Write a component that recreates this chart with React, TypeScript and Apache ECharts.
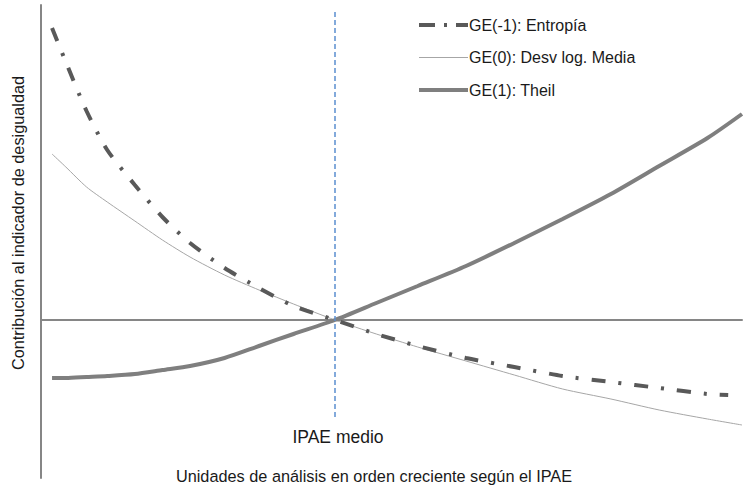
import React, { useEffect, useRef } from "react";
import * as echarts from "echarts";

const rankX = [0, 2, 5, 8, 12, 16, 20, 25, 30, 35, 41, 47, 53, 60, 67, 74, 81, 88, 95, 100];
const entropyX = [0, 2, 5, 8, 12, 16, 20, 25, 30, 35, 41, 47, 53, 60, 67, 74, 81, 88, 95, 98];
const entropyY = [292, 258, 209, 170, 135, 103, 77, 52, 32, 14, 0, -14, -26, -38, -47, -56, -62, -68, -74, -75];
const mldY = [166, 153, 133, 118, 99, 80, 63, 45, 30, 16, 0, -14, -27, -41, -55, -69, -79, -90, -99, -105];
const theilY = [-58, -58, -57, -56, -54, -50, -46, -38, -26, -14, 0, 17, 34, 54, 77, 101, 126, 154, 182, 206];
const seriesNames = ["GE(-1): Entropía", "GE(0): Desv log. Media", "GE(1): Theil"];
const meanRank = 41;
const meanLineTop = 308;
const meanLineBottom = -98;
const meanLabel = "IPAE medio";
const xTitle = "Unidades de análisis en orden creciente según el IPAE";
const yTitle = "Contribución al indicador de desigualdad";

const FONT = "Liberation Sans";

const entropyStyle = { color: "#595959", width: 4, type: [14, 13, 3, 13], cap: "butt" };
const mldStyle = { color: "#a6a6a6", width: 1 };
const theilStyle = { color: "#7f7f7f", width: 4 };

export default function App() {
  const ref = useRef<HTMLDivElement>(null);
  useEffect(() => {
    if (!ref.current) return;
    const chart = echarts.init(ref.current, undefined, { renderer: "svg" });
    const pairs = (xs: number[], ys: number[]) => xs.map((x, i) => [x, ys[i]]);
    chart.setOption({
      animation: false,
      backgroundColor: "#ffffff",
      textStyle: { fontFamily: FONT },
      grid: { left: 41, right: 2, top: 5, bottom: 14, containLabel: false },
      legend: {
        orient: "vertical",
        left: 412,
        top: 11,
        itemWidth: 49,
        itemHeight: 14,
        itemGap: 14.5,
        itemStyle: { opacity: 0 },
        textStyle: { fontFamily: FONT, fontSize: 16, color: "#1a1a1a", lineHeight: 18, padding: [0, 0, 0, -4] },
        data: [
          { name: seriesNames[0], lineStyle: { ...entropyStyle, type: [16, 9, 3, 9] } },
          { name: seriesNames[1], lineStyle: mldStyle },
          { name: seriesNames[2], lineStyle: theilStyle },
        ],
      },
      xAxis: {
        type: "value",
        min: -1.6,
        max: 100,
        axisLine: { show: true, onZero: true, lineStyle: { color: "#868686", width: 2 } },
        axisTick: { show: false },
        axisLabel: { show: false },
        splitLine: { show: false },
      },
      yAxis: {
        type: "value",
        min: -158,
        max: 315,
        axisLine: { show: true, onZero: false, lineStyle: { color: "#868686", width: 2 } },
        axisTick: { show: false },
        axisLabel: { show: false },
        splitLine: { show: false },
      },
      series: [
        {
          name: seriesNames[0],
          type: "line",
          symbol: "none",
          smooth: 0.25,
          data: pairs(entropyX, entropyY),
          lineStyle: entropyStyle,
          itemStyle: { color: "#595959" },
          markLine: {
            silent: true,
            symbol: "none",
            label: { show: false },
            lineStyle: { color: "#5b8fcf", width: 1.5, type: [5, 3] },
            data: [[{ coord: [meanRank, meanLineTop] }, { coord: [meanRank, meanLineBottom] }]],
          },
          z: 3,
        },
        {
          name: seriesNames[1],
          type: "line",
          symbol: "none",
          smooth: 0.25,
          data: pairs(rankX, mldY),
          lineStyle: mldStyle,
          itemStyle: { color: "#a6a6a6" },
          z: 2,
        },
        {
          name: seriesNames[2],
          type: "line",
          symbol: "none",
          smooth: 0.25,
          data: pairs(rankX, theilY),
          lineStyle: theilStyle,
          itemStyle: { color: "#7f7f7f" },
          z: 4,
        },
      ],
      graphic: [
        {
          type: "text",
          x: 338,
          y: 437,
          style: { text: meanLabel, font: `17.5px "${FONT}"`, fill: "#1a1a1a", textAlign: "center", textVerticalAlign: "middle" },
        },
        {
          type: "text",
          x: 374,
          y: 476,
          style: { text: xTitle, font: `16.3px "${FONT}"`, fill: "#1a1a1a", textAlign: "center", textVerticalAlign: "middle" },
        },
        {
          type: "text",
          x: 18,
          y: 223,
          rotation: Math.PI / 2,
          style: { text: yTitle, font: `16.3px "${FONT}"`, fill: "#1a1a1a", textAlign: "center", textVerticalAlign: "middle" },
        },
      ],
    });
    return () => chart.dispose();
  }, []);
  return <div ref={ref} style={{ position: "fixed", left: 0, top: 0, width: 744, height: 492 }} />;
}
